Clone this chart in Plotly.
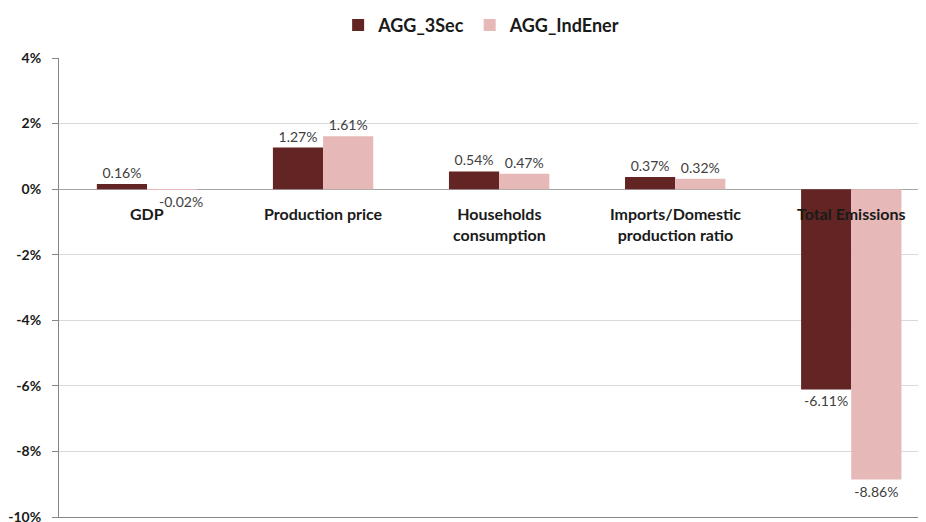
import plotly.graph_objects as go

categories = ["GDP", "Production price", "Households<br>consumption",
              "Imports/Domestic<br>production ratio", "Total Emissions"]
agg_3sec = [0.16, 1.27, 0.54, 0.37, -6.11]
agg_indener = [-0.02, 1.61, 0.47, 0.32, -8.86]
series_names = ["AGG_3Sec", "AGG_IndEner"]
y_ticks = [4, 2, 0, -2, -4, -6, -8, -10]

dark = "#632523"
light = "#E6B9B8"
font_family = "Lato, 'Open Sans', sans-serif"

x_idx = list(range(len(categories)))


def fmt(v):
    s = f"{v:.2f}%"
    # small negative labels sit just right of the category name, as in the source chart
    if -0.5 < v < 0:
        s = "&nbsp;&nbsp;&nbsp;&nbsp;&nbsp;" + s
    return s


fig = go.Figure()
for name, vals, col in [(series_names[0], agg_3sec, dark), (series_names[1], agg_indener, light)]:
    fig.add_trace(go.Bar(
        x=x_idx, y=vals, name=f"<b>{name}</b>", marker=dict(color=col, line=dict(width=0)),
        text=[fmt(v) for v in vals], textposition="outside", textangle=0,
        constraintext="none",
        textfont=dict(family=font_family, size=14, color="#404040"),
        cliponaxis=False,
    ))

for i, c in enumerate(categories):
    fig.add_annotation(x=i, y=0, xref="x", yref="y", text=f"<b>{c}</b>",
                       showarrow=False, yanchor="top", yshift=-13,
                       font=dict(family=font_family, size=16, color="#1a1a1a"))

fig.update_layout(
    width=926, height=522,
    margin=dict(l=51, r=0, t=50, b=13, autoexpand=False),
    paper_bgcolor="white", plot_bgcolor="white",
    barmode="group", bargap=0.43, bargroupgap=0,
    font=dict(family=font_family),
    legend=dict(orientation="h", x=0.483, xanchor="center", y=0.967, yanchor="middle",
                yref="container",
                font=dict(family=font_family, size=18, color="#1a1a1a"),
                traceorder="normal"),
    xaxis=dict(range=[-0.5, 4.47], showticklabels=False, showgrid=False,
               showline=True, linecolor="#868686", linewidth=1, ticks="", zeroline=False),
    yaxis=dict(range=[-10, 4], tickvals=y_ticks, ticktext=[f"<b>{t}%</b>" for t in y_ticks],
               showgrid=True, gridcolor="#D9D9D9", gridwidth=1,
               zeroline=True, zerolinecolor="#A6A6A6", zerolinewidth=1,
               showline=True, linecolor="#868686", linewidth=1,
               ticks="outside", ticklen=6, tickcolor="#868686",
               ticklabelstandoff=8, automargin=False,
               tickfont=dict(family=font_family, size=14, color="#1a1a1a")),
)

fig.write_html("out.html")
